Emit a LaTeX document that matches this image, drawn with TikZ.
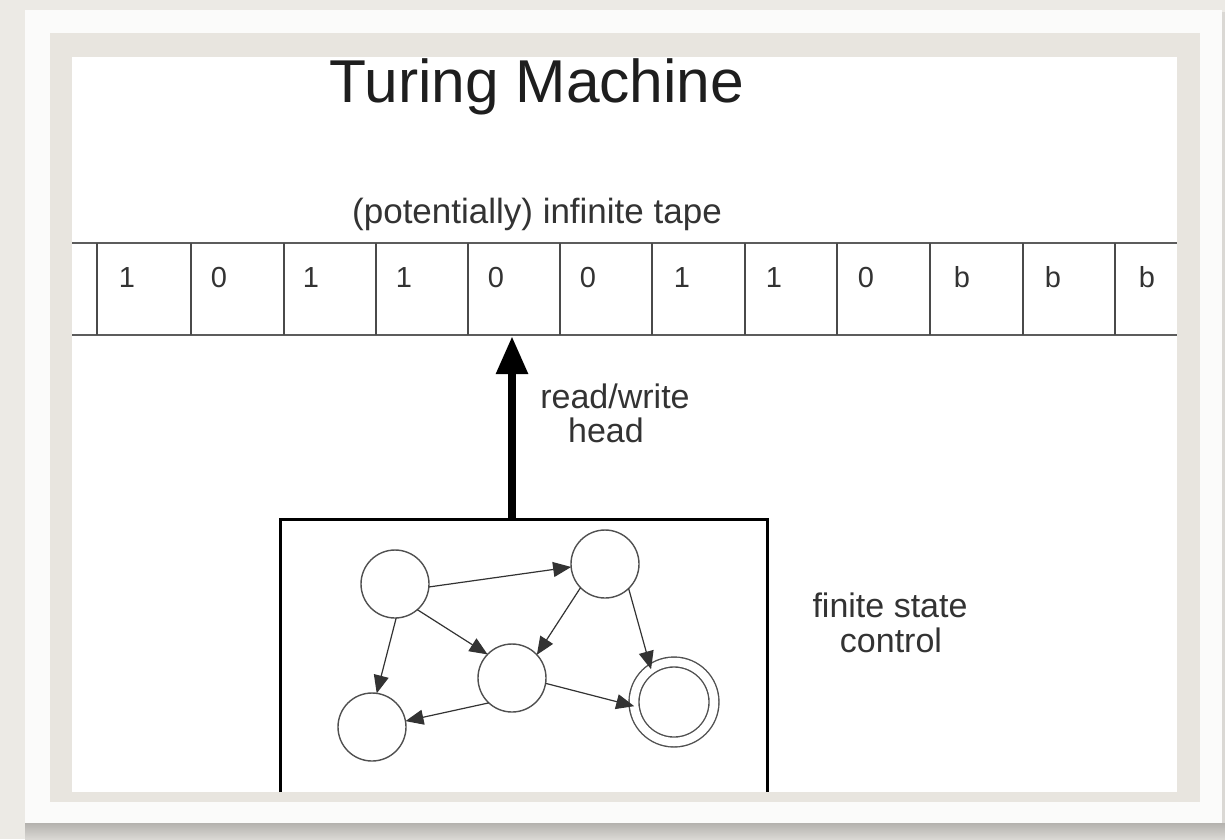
\documentclass[tikz,border=0pt]{standalone}
\usepackage{fontspec}
\setmainfont{Liberation Sans}
\usetikzlibrary{arrows.meta}
\definecolor{bgbeige}{HTML}{ECEAE5}
\definecolor{bandbeige}{HTML}{E8E5DF}
\definecolor{matwhite}{HTML}{FBFBFA}
\definecolor{tapegray}{HTML}{5C5C5C}
\definecolor{statecol}{HTML}{505050}
\definecolor{txtcol}{HTML}{333333}
\definecolor{titlecol}{HTML}{1E1E1E}
\definecolor{shadowdark}{HTML}{B4B2AE}
\definecolor{shadowlight}{HTML}{DAD8D4}
\begin{document}
\begin{tikzpicture}[x=1pt,y=-1pt,
  state/.style={circle,draw=statecol,line width=1.4pt,minimum size=68pt,inner sep=0pt,outer sep=0pt},
  accept/.style={circle,draw=statecol,line width=1.4pt,double=white,double distance=8.5pt,minimum size=80pt,inner sep=0pt,outer sep=0pt},
  edge/.style={draw=black!80,line width=1.2pt,-{Triangle[length=18pt,width=15pt]}},
  headarrow/.style={draw=black,line width=8.5pt,-{Triangle[length=38pt,width=30pt]}},
  boxline/.style={draw=black,line width=3pt,line join=miter},
  tapeline/.style={draw=tapegray,line width=2.5pt},
  divider/.style={draw=tapegray!80!black,line width=1.8pt},
  digit/.style={anchor=base,inner sep=0pt,text=txtcol,font=\fontsize{29}{31}\selectfont},
  label/.style={anchor=base,inner sep=0pt,text=txtcol,font=\fontsize{34}{36}\selectfont},
  title/.style={anchor=base,inner sep=0pt,text=titlecol,font=\fontsize{60.5}{64}\selectfont}
]
% frame / background
\fill[bgbeige] (0,0) rectangle (1225,839);
\shade[top color=shadowdark,bottom color=shadowlight] (25,823) rectangle (1225,839);
\fill[shadowlight] (1222,12) rectangle (1225,823);
\fill[matwhite] (25,10) rectangle (1222,823);
\fill[bandbeige] (50,33) rectangle (1200,802);
\fill[white] (72,57) rectangle (1177,792);

% title
\node[title] (title) at (537,102) {Turing Machine};
\node[label,font=\fontsize{35}{37}\selectfont] (tapelabel) at (537,223) {(potentially) infinite tape};

% tape
\draw[tapeline] (72,243) -- (1177,243);
\draw[tapeline] (72,335) -- (1177,335);
\foreach \x in {97,191,284,376,468,560,652,745,837,930,1023,1115}
  \draw[divider] (\x,243) -- (\x,335);
\foreach \x/\t [count=\i] in {127/1,219/0,311/1,404/1,496/0,588/0,682/1,774/1,866/0,962/b,1053/b,1147/b}
  \node[digit] (d\i) at (\x,287) {\t};

% head
\coordinate (headtip) at (512,336);
\coordinate (boxtop) at (512,518);
\draw[headarrow] (boxtop) -- (headtip);
\node[label] (rw1) at (615,408) {read/write};
\node[label] (rw2) at (606,442) {head};

% finite control box
\coordinate (boxBL) at (280,792);
\coordinate (boxTL) at (280,519);
\coordinate (boxTR) at (767,519);
\coordinate (boxBR) at (767,792);
\draw[boxline] (boxBL) -- (boxTL) -- (boxTR) -- (boxBR);
\node[label] (fs1) at (890,617) {finite state};
\node[label] (fs2) at (891,652) {control};

% states
\node[state] (A) at (395,584) {};
\node[state] (B) at (605,564) {};
\node[state] (C) at (512,678) {};
\node[state] (D) at (372,727) {};
\node[accept] (E) at (674,702) {};

\draw[edge] (A.-5) -- (B.185);
\draw[edge] (A.-49) -- (C.136);
\draw[edge] (A.-88) -- (D.82);
\draw[edge] (B.224) -- (C.43);
\draw[edge] (B.-46) -- (E.125);
\draw[edge] (C.-9) -- (E.186);
\draw[edge] (C.227) -- (D.10);
\end{tikzpicture}
\end{document}
